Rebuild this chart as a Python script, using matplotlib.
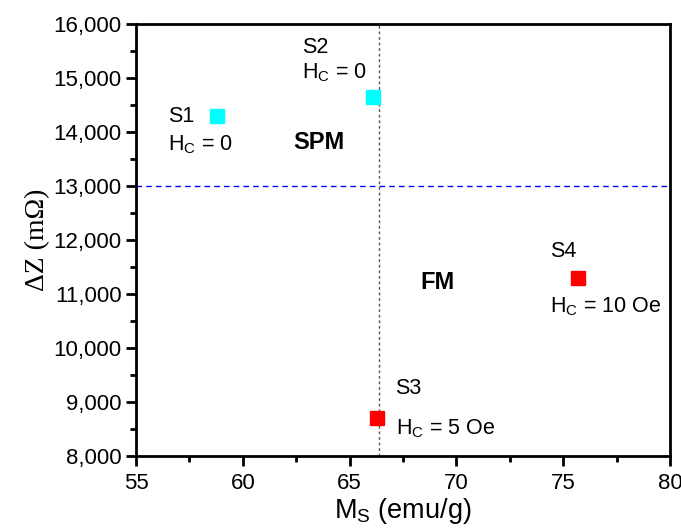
import matplotlib
matplotlib.use("Agg")
import matplotlib.pyplot as plt
from matplotlib.ticker import FuncFormatter, MultipleLocator

plt.rcParams['font.family'] = ['Liberation Sans', 'DejaVu Sans']
plt.rcParams['mathtext.fontset'] = 'custom'
plt.rcParams['mathtext.rm'] = 'Liberation Sans'

# sample data
samples = ['S1', 'S2', 'S3', 'S4']
ms = [58.8, 66.1, 66.3, 75.7]          # emu/g
dz = [14300, 14650, 8700, 11300]       # mOhm
hc = ['0', '0', '5 Oe', '10 Oe']
colors = ['#00ffff', '#00ffff', '#ff0000', '#ff0000']
ms_split = 66.4
dz_split = 13000

fig = plt.figure(figsize=(6.81, 5.29), dpi=100)
ax = fig.add_axes([0.1997, 0.138, 0.7841, 0.8166])

ax.axvline(ms_split, color='#555555', linestyle=(0, (2, 2)), linewidth=1)
ax.axhline(dz_split, color='#0000ff', linestyle=(0, (4, 3)), linewidth=1)

for x, y, c in zip(ms, dz, colors):
    ax.plot(x, y, marker='s', markersize=10.5, color=c, linestyle='none', zorder=5)

# labels next to each point
fs = 15.5
lab_pos = [(56.5, 14280), (62.77, 15574), (67.13, 9241), (74.38, 11778)]
hc_pos = [(56.5, 13770), (62.77, 15100), (67.17, 8510), (74.38, 10770)]
for s, h, (lx, ly), (hx, hy) in zip(samples, hc, lab_pos, hc_pos):
    ax.text(lx, ly, s, fontsize=fs, va='center', ha='left')
    ax.text(hx, hy, 'H$_\\mathregular{C}$ = ' + h, fontsize=fs, va='center', ha='left')

ax.text(62.35, 13815, 'SPM', fontsize=17, fontweight='bold', va='center', ha='left')
ax.text(68.3, 11204, 'FM', fontsize=17, fontweight='bold', va='center', ha='left')

ax.set_xlim(55, 80)
ax.set_ylim(8000, 16000)
ax.xaxis.set_major_locator(MultipleLocator(5))
ax.xaxis.set_minor_locator(MultipleLocator(2.5))
ax.yaxis.set_major_locator(MultipleLocator(1000))
ax.yaxis.set_minor_locator(MultipleLocator(500))
ax.yaxis.set_major_formatter(FuncFormatter(lambda v, p: f'{int(v):,}'))

for sp in ax.spines.values():
    sp.set_linewidth(2)
ax.tick_params(which='major', direction='out', length=7, width=2, labelsize=16)
ax.tick_params(axis='x', which='major', pad=5)
ax.tick_params(which='minor', direction='out', length=4, width=2)

ax.set_xlabel('M$_\\mathregular{S}$ (emu/g)', fontsize=19.5, labelpad=2)
ax.set_ylabel('ΔZ (mΩ)', fontsize=20, family=['Liberation Serif', 'DejaVu Serif'], labelpad=2)

fig.savefig('out.png', dpi=100)
